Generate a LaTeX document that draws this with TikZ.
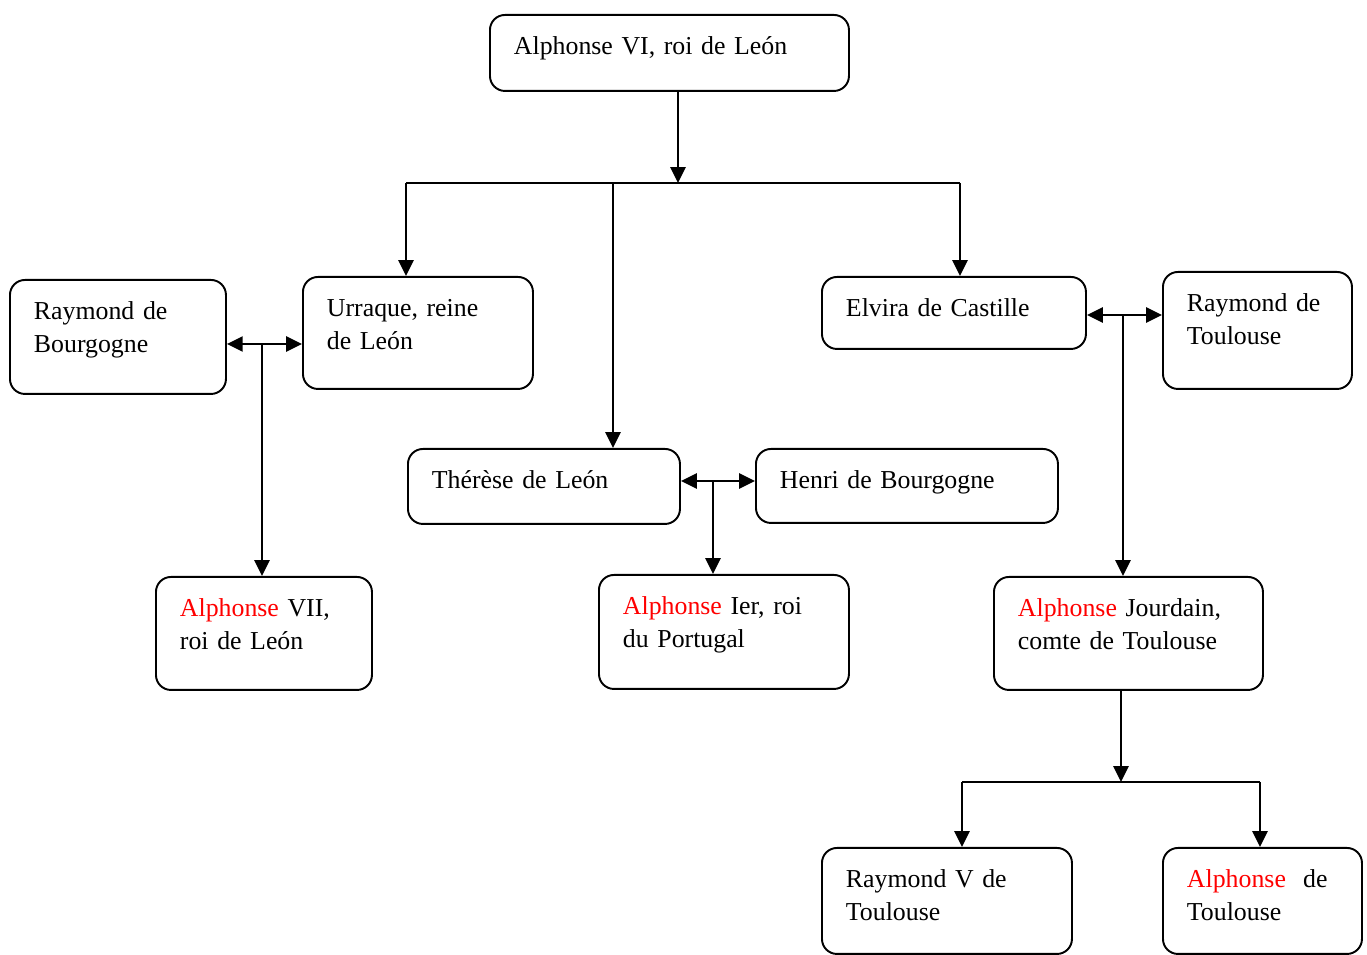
\documentclass[tikz,border=0pt]{standalone}
\usepackage{fontspec}
\setmainfont{Liberation Serif}
\usepackage{tikz}
\usetikzlibrary{arrows.meta}
\newdimen\px \px=0.02cm

\begin{document}
\begin{tikzpicture}[
    x=0.02cm, y=-0.02cm,
    line width=1.1pt,
    >={Triangle[length=9pt,width=8.6pt]},
    person/.style={draw, rounded corners=15\px, anchor=north west, align=left,
        inner xsep=24\px, inner ysep=0pt, text height=40\px,
        font=\fontsize{14.7pt}{18.7pt}\selectfont},
]
\useasboundingbox (0,0) rectangle (1367,955);

\node[person, text width=311\px, text depth=36\px] (alfsix) at (489,14) {Alphonse VI, roi de León};

\node[person, text width=168\px, text depth=74\px] (raymbourg) at (9,279) {Raymond de\\Bourgogne};
\node[person, text width=182\px, text depth=72\px] (urraque) at (302,276) {Urraque, reine\\de León};
\node[person, text width=216\px, text depth=32\px] (elvira) at (821,276) {Elvira de Castille};
\node[person, text width=141\px, text depth=77\px] (raymtoul) at (1162,271) {Raymond de\\Toulouse};
\node[person, text width=224\px, text depth=35\px] (therese) at (407,448) {Thérèse de León};
\node[person, text width=254\px, text depth=34\px] (henri) at (755,448) {Henri de Bourgogne};

\node[person, text width=168\px, text depth=73\px] (alfseven) at (155,576) {\textcolor{red}{Alphonse} VII,\\roi de León};
\node[person, text width=202\px, text depth=74\px] (alfprem) at (598,574) {\textcolor{red}{Alphonse} Ier, roi\\du Portugal};
\node[person, text width=221\px, text depth=73\px] (jourdain) at (993,576) {\textcolor{red}{Alphonse} Jourdain,\\comte de Toulouse};

\node[person, text width=202\px, text depth=66\px] (raymcinq) at (821,847) {Raymond V de\\Toulouse};
\node[person, text width=151\px, text depth=66\px] (alftoul) at (1162,847) {\textcolor{red}{Alphonse}\ \ de\\Toulouse};

% children of Alphonse VI
\coordinate (topjoin) at (678,183);
\coordinate (joinleft) at (406,183);
\coordinate (joinmid) at (613,183);
\coordinate (joinright) at (960,183);
\draw[->] (alfsix.south -| topjoin) -- (topjoin);
\draw (joinleft) -- (joinright);
\draw[->] (joinleft) -- (joinleft |- urraque.north);
\draw[->] (joinmid) -- (joinmid |- therese.north);
\draw[->] (joinright) -- (joinright |- elvira.north);

% marriages
\coordinate (bourgmar) at (262,344);
\draw[<->] (raymbourg.east |- bourgmar) -- (urraque.west |- bourgmar);
\draw[->] (bourgmar) -- (bourgmar |- alfseven.north);
\coordinate (portmar) at (713,481);
\draw[<->] (therese.east |- portmar) -- (henri.west |- portmar);
\draw[->] (portmar) -- (portmar |- alfprem.north);
\coordinate (toulmar) at (1123,315);
\draw[<->] (elvira.east |- toulmar) -- (raymtoul.west |- toulmar);
\draw[->] (toulmar) -- (toulmar |- jourdain.north);

% children of Alphonse Jourdain
\coordinate (botjoin) at (1121,782);
\coordinate (botleft) at (962,782);
\coordinate (botright) at (1260,782);
\draw[->] (jourdain.south -| botjoin) -- (botjoin);
\draw (botleft) -- (botright);
\draw[->] (botleft) -- (botleft |- raymcinq.north);
\draw[->] (botright) -- (botright |- alftoul.north);
\end{tikzpicture}
\end{document}
